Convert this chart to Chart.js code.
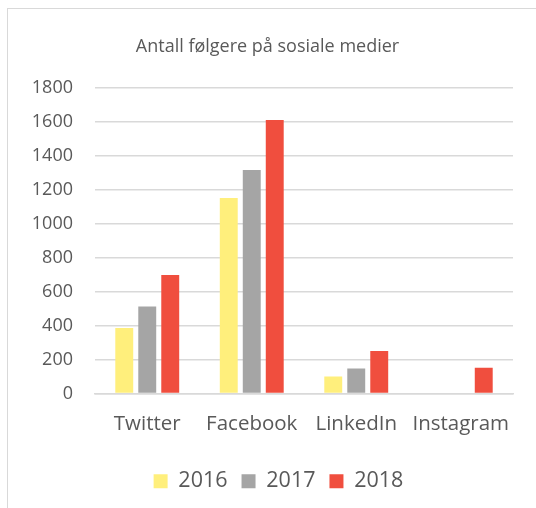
<!DOCTYPE html>
<html lang="no">
<head>
<meta charset="utf-8">
<title>Antall følgere</title>
<script src="https://cdn.jsdelivr.net/npm/chart.js"></script>
<style>
  html, body { margin: 0; padding: 0; background: #fff; }
  #wrap { position: relative; width: 536px; height: 508px; }
  #frame { position: absolute; left: 7px; top: 8px; width: 540px; height: 520px; border: 1px solid #d9d9d9; box-sizing: border-box; }
  canvas { position: absolute; left: 0; top: 0; }
</style>
</head>
<body>
<div id="wrap">
  <div id="frame"></div>
  <canvas id="chart" width="536" height="508"></canvas>
</div>
<script>
  const categories = ['Twitter', 'Facebook', 'LinkedIn', 'Instagram'];
  const years = ['2016', '2017', '2018'];
  const values2016 = [385, 1150, 100, 0];
  const values2017 = [512, 1315, 147, 0];
  const values2018 = [698, 1610, 250, 152];
  const yTicks = [0, 200, 400, 600, 800, 1000, 1200, 1400, 1600, 1800];

  const colors = ['#ffef7c', '#a5a5a5', '#f04e3e'];
  const series = [values2016, values2017, values2018];
  const txt = '#595959';

  // title and legend sit a bit right of centre in the original
  const shiftBoxes = {
    id: 'shiftBoxes',
    afterLayout(chart) {
      chart.legend.left += 22;
      chart.legend.right += 22;
      chart.titleBlock.left += 11;
      chart.titleBlock.right += 11;
    }
  };

  new Chart(document.getElementById('chart'), {
    type: 'bar',
    data: {
      labels: categories,
      datasets: years.map((y, i) => ({
        label: y,
        data: series[i],
        backgroundColor: colors[i],
        borderWidth: 0,
        categoryPercentage: 0.66,
        barPercentage: 0.78
      }))
    },
    options: {
      responsive: false,
      animation: false,
      layout: { padding: { left: 0, right: 23, top: 14, bottom: 6 } },
      plugins: {
        title: {
          display: true,
          text: 'Antall følgere på sosiale medier',
          color: txt,
          font: { family: 'Open Sans', size: 18, weight: 'normal' },
          padding: { top: 22, bottom: 30 }
        },
        legend: {
          position: 'bottom',
          labels: {
            color: txt,
            font: { family: 'Open Sans', size: 21.5 },
            boxWidth: 14,
            boxHeight: 14,
            padding: 14
          }
        },
        tooltip: { enabled: false }
      },
      scales: {
        x: {
          afterFit: s => { s.height = 63; },
          grid: { display: false, drawTicks: false },
          border: { color: '#d9d9d9', width: 1.5 },
          ticks: {
            color: txt,
            font: { family: 'Open Sans', size: 20.5 },
            padding: 18,
            maxRotation: 0
          }
        },
        y: {
          min: 0,
          max: 1800,
          afterBuildTicks: s => { s.ticks = yTicks.map(v => ({ value: v })); },
          afterFit: s => { s.width = 95; },
          grid: { color: '#d9d9d9', lineWidth: 1.5, drawTicks: false },
          border: { display: false },
          ticks: {
            color: txt,
            font: { family: 'Open Sans', size: 18 },
            padding: 22,
            callback: v => String(v)
          }
        }
      }
    },
    plugins: [shiftBoxes]
  });
</script>
</body>
</html>
